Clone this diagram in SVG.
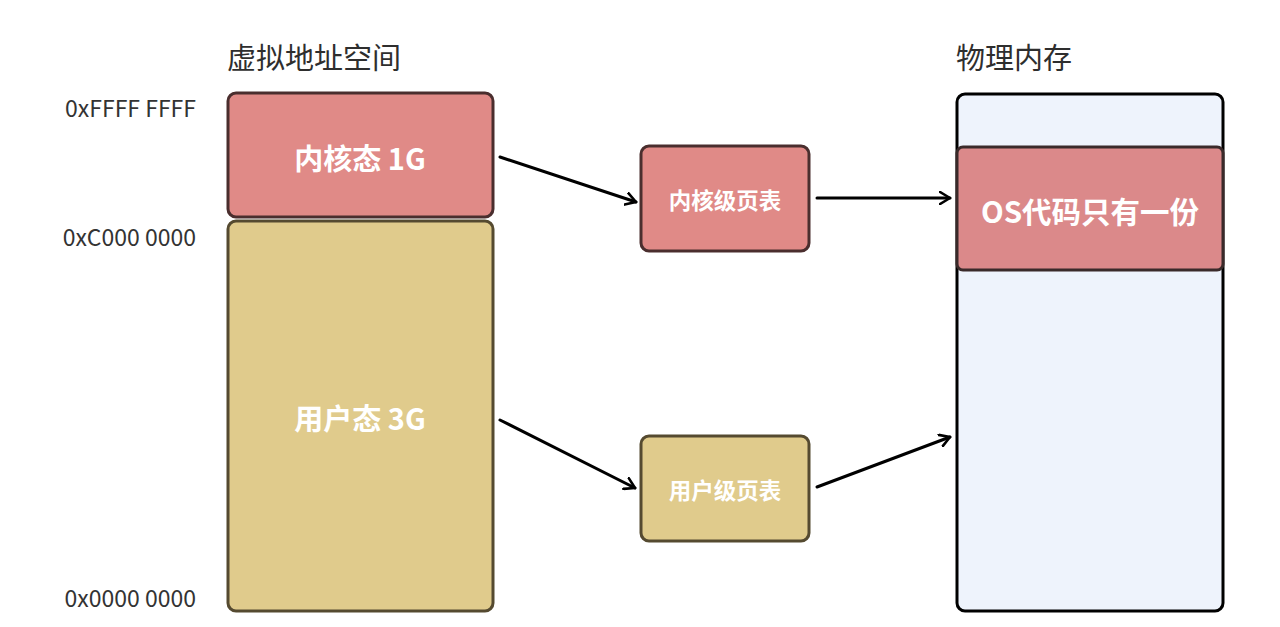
<svg xmlns="http://www.w3.org/2000/svg" width="1280" height="627" viewBox="0 0 1280 627">
<defs>
<marker id="arr" markerWidth="14" markerHeight="14" refX="11" refY="7" orient="auto" markerUnits="userSpaceOnUse">
<path d="M1,1 L11,7 L1,13" fill="none" stroke="#000" stroke-width="2.6" stroke-linecap="round" stroke-linejoin="round"/>
</marker>
<style>
text{font-family:"Noto Sans CJK SC","Noto Sans",sans-serif;}
.title{font-size:29px;fill:#2e2e2e;}
.addr{font-size:23px;fill:#333;font-weight:400;}
.lbl{fill:#fff;font-weight:700;text-anchor:middle;dominant-baseline:central;}
.kern{fill:#e08a87;stroke:#4a2e2e;stroke-width:3;}
.user{fill:#e0cb8c;stroke:#554a30;stroke-width:3;}
.conn{stroke:#000;stroke-width:3;fill:none;stroke-linecap:round;}
</style>
</defs>
<rect width="1280" height="627" fill="#fff"/>
<text class="title" x="227" y="69">虚拟地址空间</text>
<text class="title" x="956" y="69">物理内存</text>
<text class="addr" x="196" y="117" text-anchor="end">0xFFFF FFFF</text>
<text class="addr" x="196" y="246" text-anchor="end">0xC000 0000</text>
<text class="addr" x="196" y="607" text-anchor="end">0x0000 0000</text>
<g id="kernel-space">
<rect class="kern" x="228" y="93" width="265" height="124" rx="8"/>
<text class="lbl" x="360" y="157" font-size="29">内核态 1G</text>
</g>
<g id="user-space">
<rect class="user" x="228" y="221" width="265" height="390" rx="8"/>
<text class="lbl" x="360" y="417" font-size="29">用户态 3G</text>
</g>
<g id="kernel-pt">
<rect class="kern" x="641" y="146" width="168" height="105" rx="8"/>
<text class="lbl" x="725" y="199" font-size="22.5">内核级页表</text>
</g>
<g id="user-pt">
<rect class="user" x="641" y="436" width="168" height="105" rx="8"/>
<text class="lbl" x="725" y="489" font-size="22.5">用户级页表</text>
</g>
<g id="phys-mem">
<rect x="957" y="94" width="266" height="517" rx="8" fill="#eef3fc" stroke="#000" stroke-width="3"/>
</g>
<g id="os-code">
<rect x="957" y="147" width="266" height="123" rx="6" fill="#db898a" stroke="#3a2a2a" stroke-width="3"/>
<text class="lbl" x="1090" y="210" font-size="29.5">OS代码只有一份</text>
</g>
<g id="connectors">
<line class="conn" x1="500" y1="157" x2="636" y2="202" marker-end="url(#arr)"/>
<line class="conn" x1="817" y1="198" x2="950" y2="198" marker-end="url(#arr)"/>
<line class="conn" x1="500" y1="420" x2="635" y2="488" marker-end="url(#arr)"/>
<line class="conn" x1="817" y1="487" x2="950" y2="437" marker-end="url(#arr)"/>
</g>
</svg>
